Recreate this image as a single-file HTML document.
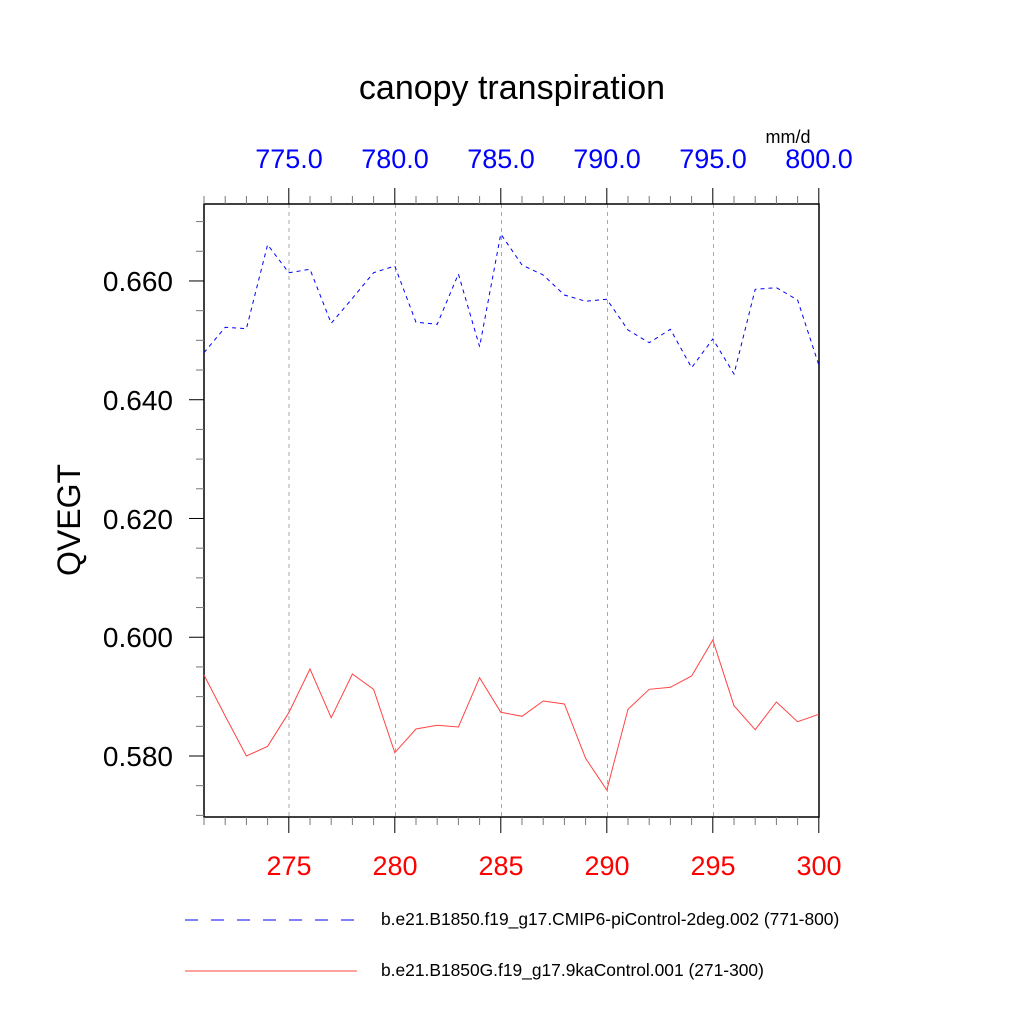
<!DOCTYPE html>
<html><head><meta charset="utf-8"><style>body{margin:0;background:#fff}</style></head><body>
<svg width="1024" height="1024" xmlns="http://www.w3.org/2000/svg" font-family="Liberation Sans, sans-serif">
<rect width="1024" height="1024" fill="#fff"/>
<text x="512" y="99" font-size="34" text-anchor="middle">canopy transpiration</text>
<g stroke="#aaa" stroke-dasharray="4,4" stroke-width="1">
<line x1="289" y1="204" x2="289" y2="817"/><line x1="395.5" y1="204" x2="395.5" y2="817"/>
<line x1="501.5" y1="204" x2="501.5" y2="817"/><line x1="607.5" y1="204" x2="607.5" y2="817"/>
<line x1="713.5" y1="204" x2="713.5" y2="817"/>
</g>
<g stroke="#000" stroke-width="1.5">
<rect x="204" y="204" width="615" height="613" fill="none"/>
</g>
<g id="tk" stroke-width="1"></g>
<polyline fill="none" stroke="#00f" stroke-width="1" stroke-dasharray="4,4" points="204,352.7 225.2,327.3 246.4,328.7 267.6,244.7 288.8,272.7 310,269.3 331.2,323.3 352.4,298.3 373.6,272.7 394.8,266 416,322.3 437.2,324.3 458.4,274 479.6,346.7 500.8,234 522,265 543.2,275 564.4,295 585.6,301.3 606.8,299.3 628,330 649.2,342.7 670.4,329.3 691.6,367.7 712.8,339 734,374 755.2,289.3 776.4,287.7 797.6,300 818.8,365"/>
<polyline fill="none" stroke="#f44" stroke-width="1" points="204,675 225.2,716 246.4,756 267.6,746.3 288.8,712.7 310,669 331.2,717.7 352.4,674 373.6,689.3 394.8,752.7 416,729 437.2,725.3 458.4,727 479.6,677.7 500.8,712.3 522,716.3 543.2,701 564.4,704 585.6,758.3 606.8,790 628,709.3 649.2,689.3 670.4,687.3 691.6,676 712.8,640 734,705.7 755.2,729.7 776.4,702 797.6,721.7 818.8,714.3"/>
<g font-size="28" text-anchor="end">
<text x="173" y="291">0.660</text><text x="173" y="410">0.640</text><text x="173" y="529">0.620</text>
<text x="173" y="647">0.600</text><text x="173" y="766">0.580</text>
</g>
<g font-size="27" text-anchor="middle" fill="#f00">
<text x="289" y="875">275</text><text x="395" y="875">280</text><text x="501" y="875">285</text>
<text x="607" y="875">290</text><text x="713" y="875">295</text><text x="819" y="875">300</text>
</g>
<g font-size="27" text-anchor="middle" fill="#00f">
<text x="289" y="168">775.0</text><text x="395" y="168">780.0</text><text x="501" y="168">785.0</text>
<text x="607" y="168">790.0</text><text x="713" y="168">795.0</text><text x="819" y="168">800.0</text>
</g>
<text x="788" y="143" font-size="18" text-anchor="middle">mm/d</text>
<text transform="translate(80,520) rotate(-90)" font-size="32" text-anchor="middle">QVEGT</text>
<line x1="185" y1="920" x2="355" y2="920" stroke="#00f" stroke-dasharray="13,13" stroke-width="1"/>
<line x1="185" y1="971" x2="357" y2="971" stroke="#f44" stroke-width="1"/>
<text x="381" y="925" font-size="17.4">b.e21.B1850.f19_g17.CMIP6-piControl-2deg.002 (771-800)</text>
<text x="381" y="976" font-size="17.4">b.e21.B1850G.f19_g17.9kaControl.001 (271-300)</text>
</svg>
<script>
var g=document.getElementById('tk'),s='';
for(var i=0;i<=29;i++){var x=204+i*21.2,m=(i%5==4);var L=m?16:8,c=m?'#000':'#777';
s+='<line stroke="'+c+'" x1="'+x+'" y1="817" x2="'+x+'" y2="'+(817+L)+'"/>';
s+='<line stroke="'+c+'" x1="'+x+'" y1="204" x2="'+x+'" y2="'+(204-L)+'"/>';}
for(var k=-2;k<=18;k++){var y=756-k*29.69;if(y<204||y>817)continue;var m=(k%4==0);var L=m?15:8,c=m?'#000':'#777';
s+='<line stroke="'+c+'" x1="204" y1="'+y+'" x2="'+(204-L)+'" y2="'+y+'"/>';}
g.innerHTML=s;
</script>
</body></html>
